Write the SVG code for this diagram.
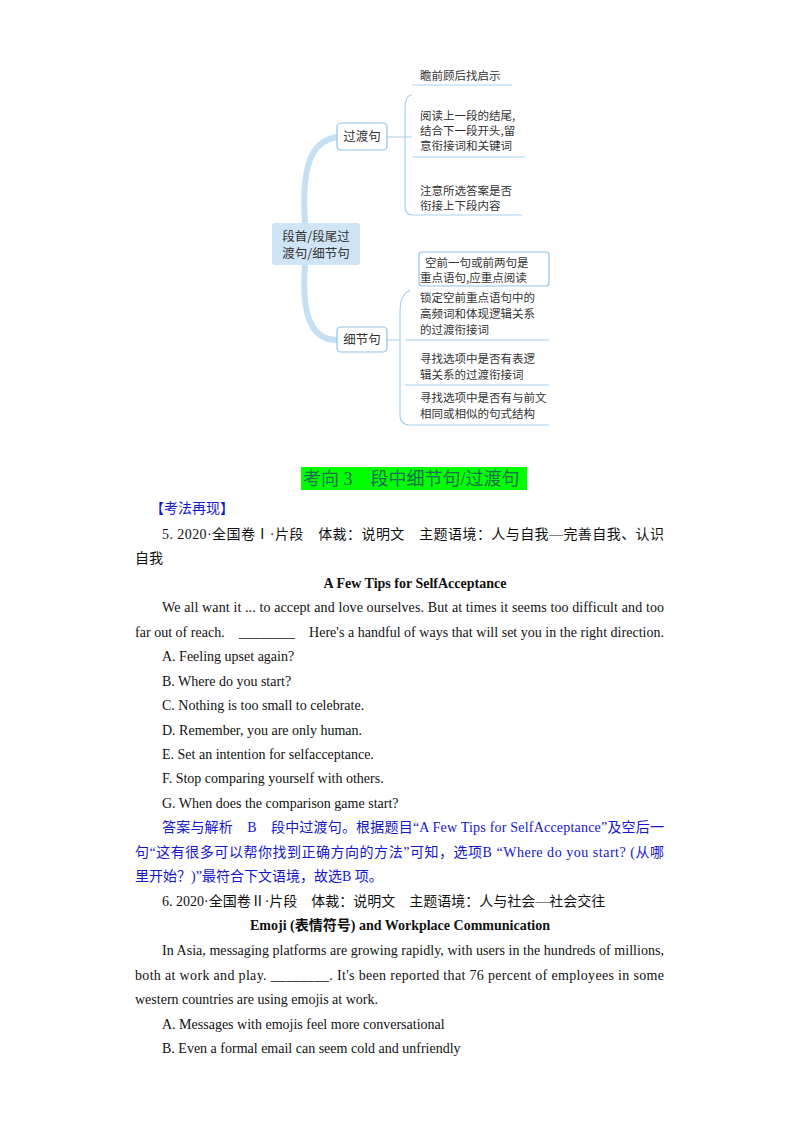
<svg xmlns="http://www.w3.org/2000/svg" width="800" height="1132" viewBox="0 0 800 1132">
<style>
.m{font-family:"Noto Sans CJK SC",sans-serif;font-size:11.5px;fill:#333}
.b{fill:#fff;stroke:#8fc3e6;stroke-width:1.2}
.ln{fill:none;stroke:#a9d2ef;stroke-width:1.2}
.t{font-family:"Liberation Serif","Noto Sans CJK SC",serif;font-size:14px;fill:#111}
.bl{fill:#1515d0}
</style>
<rect x="0" y="0" width="800" height="1132" fill="#fff"/>
<g id="connectors">
<path d="M305,223 C300,150 320,140 337,137" fill="none" stroke="#c5e0f5" stroke-width="6"/>
<path d="M305,265 C300,330 320,340 337,340" fill="none" stroke="#c5e0f5" stroke-width="6"/>
<path class="ln" d="M387,137 H405 M412,95 Q405,95 405,110 V205 Q405,215 412,215 M405,137 H412"/>
<path class="ln" d="M412,85 H512 M412,157 H525 M412,215 H522"/>
<path class="ln" d="M387,340 H400 M410,290 Q400,295 400,310 V415 Q400,425 410,425"/>
<path class="ln" d="M405,340 H549 M405,385 H549 M410,425 H549"/>
</g>
<g id="root"><rect x="272" y="223" width="88" height="42" rx="3" fill="#cfe4f5"/>
<text class="m" x="316" y="241" text-anchor="middle" style="font-size:12.5px">段首/段尾过</text><text class="m" x="316" y="258" text-anchor="middle" style="font-size:12.5px">渡句/细节句</text></g>
<g id="n1"><rect class="b" x="337" y="123" width="50" height="27" rx="4"/><text class="m" x="362" y="141" text-anchor="middle" style="font-size:12.5px">过渡句</text></g>
<g id="n2"><rect class="b" x="337" y="327" width="50" height="25" rx="4"/><text class="m" x="362" y="344" text-anchor="middle" style="font-size:12.5px">细节句</text></g>
<g id="l1"><text class="m" x="420" y="80">瞻前顾后找启示</text></g>
<g id="l2"><text class="m" x="420" y="120">阅读上一段的结尾,</text><text class="m" x="420" y="135">结合下一段开头,留</text><text class="m" x="420" y="150">意衔接词和关键词</text></g>
<g id="l3"><text class="m" x="420" y="195">注意所选答案是否</text><text class="m" x="420" y="210">衔接上下段内容</text></g>
<g id="l4"><rect class="b" x="419" y="252" width="130" height="34" rx="3"/><text class="m" x="425" y="267">空前一句或前两句是</text><text class="m" x="420" y="282">重点语句,应重点阅读</text></g>
<g id="l5"><text class="m" x="420" y="302">锁定空前重点语句中的</text><text class="m" x="420" y="318">高频词和体现逻辑关系</text><text class="m" x="420" y="334">的过渡衔接词</text></g>
<g id="l6"><text class="m" x="420" y="363">寻找选项中是否有表逻</text><text class="m" x="420" y="379">辑关系的过渡衔接词</text></g>
<g id="l7"><text class="m" x="420" y="402">寻找选项中是否有与前文</text><text class="m" x="420" y="418">相同或相似的句式结构</text></g>
<rect x="301" y="467" width="226" height="23" fill="#00ff00"/>
<text class="t" x="303" y="485" style="font-size:18px;fill:#1d6b55">考向 3　段中细节句/过渡句</text>
<text class="t bl" x="150" y="513">【考法再现】</text>
<text class="t" x="162" y="539" textLength="502">5. 2020·全国卷Ⅰ·片段　体裁：说明文　主题语境：人与自我—完善自我、认识</text>
<text class="t" x="135" y="563">自我</text>
<text class="t" x="415" y="588" text-anchor="middle" font-weight="bold">A Few Tips for SelfAcceptance</text>
<text class="t" x="162" y="612" textLength="502">We all want it ... to accept and love ourselves. But at times it seems too difficult and too</text>
<text class="t" x="135" y="637" textLength="529" xml:space="preserve">far out of reach.    ________    Here's a handful of ways that will set you in the right direction.</text>
<text class="t" x="162" y="661">A. Feeling upset again?</text>
<text class="t" x="162" y="686">B. Where do you start?</text>
<text class="t" x="162" y="710">C. Nothing is too small to celebrate.</text>
<text class="t" x="162" y="735">D. Remember, you are only human.</text>
<text class="t" x="162" y="759">E. Set an intention for selfacceptance.</text>
<text class="t" x="162" y="783">F. Stop comparing yourself with others.</text>
<text class="t" x="162" y="808">G. When does the comparison game start?</text>
<text class="t bl" x="162" y="832" textLength="502" xml:space="preserve">答案与解析　B　段中过渡句。根据题目“A Few Tips for SelfAcceptance”及空后一</text>
<text class="t bl" x="135" y="857" textLength="529">句“这有很多可以帮你找到正确方向的方法”可知，选项B “Where do you start? (从哪</text>
<text class="t bl" x="135" y="881">里开始？)”最符合下文语境，故选B 项。</text>
<text class="t" x="162" y="906">6. 2020·全国卷Ⅱ·片段　体裁：说明文　主题语境：人与社会—社会交往</text>
<text class="t" x="400" y="930" text-anchor="middle" font-weight="bold">Emoji  (表情符号)  and Workplace Communication</text>
<text class="t" x="162" y="955" textLength="502">In Asia, messaging platforms are growing rapidly, with users in the hundreds of millions,</text>
<text class="t" x="135" y="980" textLength="529">both at work and play. ________. It's been reported that 76 percent of employees in some</text>
<text class="t" x="135" y="1004">western countries are using emojis at work.</text>
<text class="t" x="162" y="1029">A. Messages with emojis feel more conversational</text>
<text class="t" x="162" y="1053">B. Even a formal email can seem cold and unfriendly</text>
</svg>
